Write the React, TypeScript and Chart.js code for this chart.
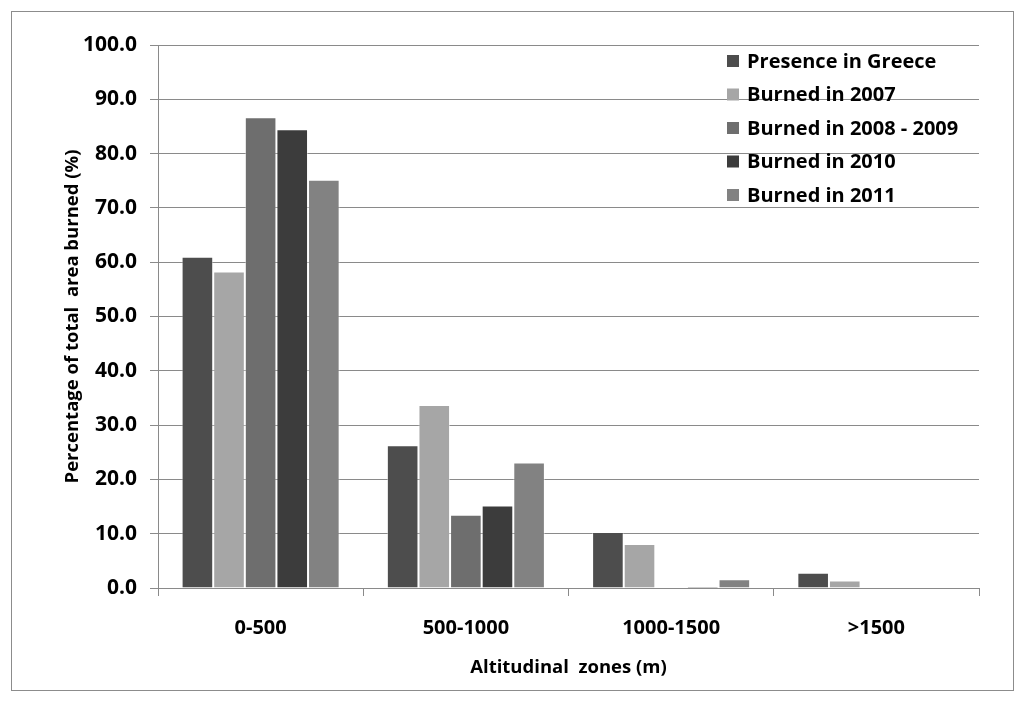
import { useEffect, useRef } from 'react'
import { Chart, registerables } from 'chart.js'
import type { Plugin } from 'chart.js'

Chart.register(...registerables)

const zones = ['0-500', '500-1000', '1000-1500', '>1500']

const presenceInGreece = [61.0, 26.3, 10.3, 2.8]
const burned2007 = [58.3, 33.7, 8.1, 1.4]
const burned2008to2009 = [86.7, 13.5, 0, 0]
const burned2010 = [84.5, 15.2, 0.3, 0]
const burned2011 = [75.2, 23.1, 1.6, 0]

const seriesLabels = [
  'Presence in Greece',
  'Burned in 2007',
  'Burned in 2008 - 2009',
  'Burned in 2010',
  'Burned in 2011',
]
const seriesColors = ['#4d4d4d', '#a6a6a6', '#6e6e6e', '#3c3c3c', '#828282']

const FONT = '"Open Sans", "DejaVu Sans", sans-serif'
const GRID = '#8a8a8a'

// legend drawn inside the plot, top right, like the Excel original
const insideLegend: Plugin<'bar'> = {
  id: 'insideLegend',
  afterDraw(chart) {
    const { ctx } = chart
    ctx.save()
    ctx.font = `bold 20px ${FONT}`
    ctx.textBaseline = 'middle'
    ctx.textAlign = 'left'
    chart.data.datasets.forEach((ds, i) => {
      const y = 61 + i * 33.5
      ctx.fillStyle = ds.backgroundColor as string
      ctx.fillRect(727, y - 6, 12, 12)
      ctx.fillStyle = '#000'
      ctx.fillText(ds.label ?? '', 747, y + 1)
    })
    ctx.restore()
  },
}

export default function App() {
  const canvasRef = useRef<HTMLCanvasElement>(null)

  useEffect(() => {
    const canvas = canvasRef.current
    if (!canvas) return

    const values = [presenceInGreece, burned2007, burned2008to2009, burned2010, burned2011]

    const chart = new Chart(canvas, {
      type: 'bar',
      data: {
        labels: zones,
        datasets: values.map((data, i) => ({
          label: seriesLabels[i],
          data,
          backgroundColor: seriesColors[i],
          borderColor: 'rgba(255,255,255,0.45)',
          borderWidth: 1,
          barPercentage: 1,
          categoryPercentage: 0.77,
        })),
      },
      options: {
        animation: false,
        responsive: false,
        devicePixelRatio: 1,
        events: [],
        layout: { padding: { left: 62, right: 45, top: 45, bottom: 12 } },
        plugins: { legend: { display: false }, tooltip: { enabled: false } },
        scales: {
          x: {
            afterFit: (s) => {
              s.height = 102
            },
            grid: {
              offset: true,
              drawOnChartArea: false,
              tickLength: 8,
              color: GRID,
            },
            border: { color: GRID },
            ticks: {
              color: '#000',
              padding: 20,
              maxRotation: 0,
              font: { family: FONT, size: 20, weight: 'bold' },
            },
            title: {
              display: true,
              text: 'Altitudinal  zones (m)',
              color: '#000',
              padding: { top: 0, bottom: 11 },
              font: { family: FONT, size: 18.5, weight: 'bold' },
            },
          },
          y: {
            min: 0,
            max: 100,
            afterFit: (s) => {
              s.width = 96
            },
            grid: { color: GRID, tickLength: 8 },
            border: { color: GRID },
            ticks: {
              stepSize: 10,
              color: '#000',
              padding: 13,
              font: { family: FONT, size: 21, weight: 'bold' },
              callback: (v) => Number(v).toFixed(1),
            },
            title: {
              display: true,
              text: 'Percentage of total  area burned (%)',
              color: '#000',
              padding: 0,
              font: { family: FONT, size: 18.5, weight: 'bold' },
            },
          },
        },
      },
      plugins: [insideLegend],
    })

    return () => chart.destroy()
  }, [])

  return (
    <div style={{ position: 'absolute', left: 0, top: 0, width: 1024, height: 702, background: '#fff' }}>
      <div
        style={{
          position: 'absolute',
          left: 11,
          top: 11,
          width: 1001,
          height: 678,
          border: '1px solid #8c8c8c',
        }}
      />
      <canvas ref={canvasRef} width={1024} height={702} style={{ position: 'absolute', left: 0, top: 0 }} />
    </div>
  )
}
